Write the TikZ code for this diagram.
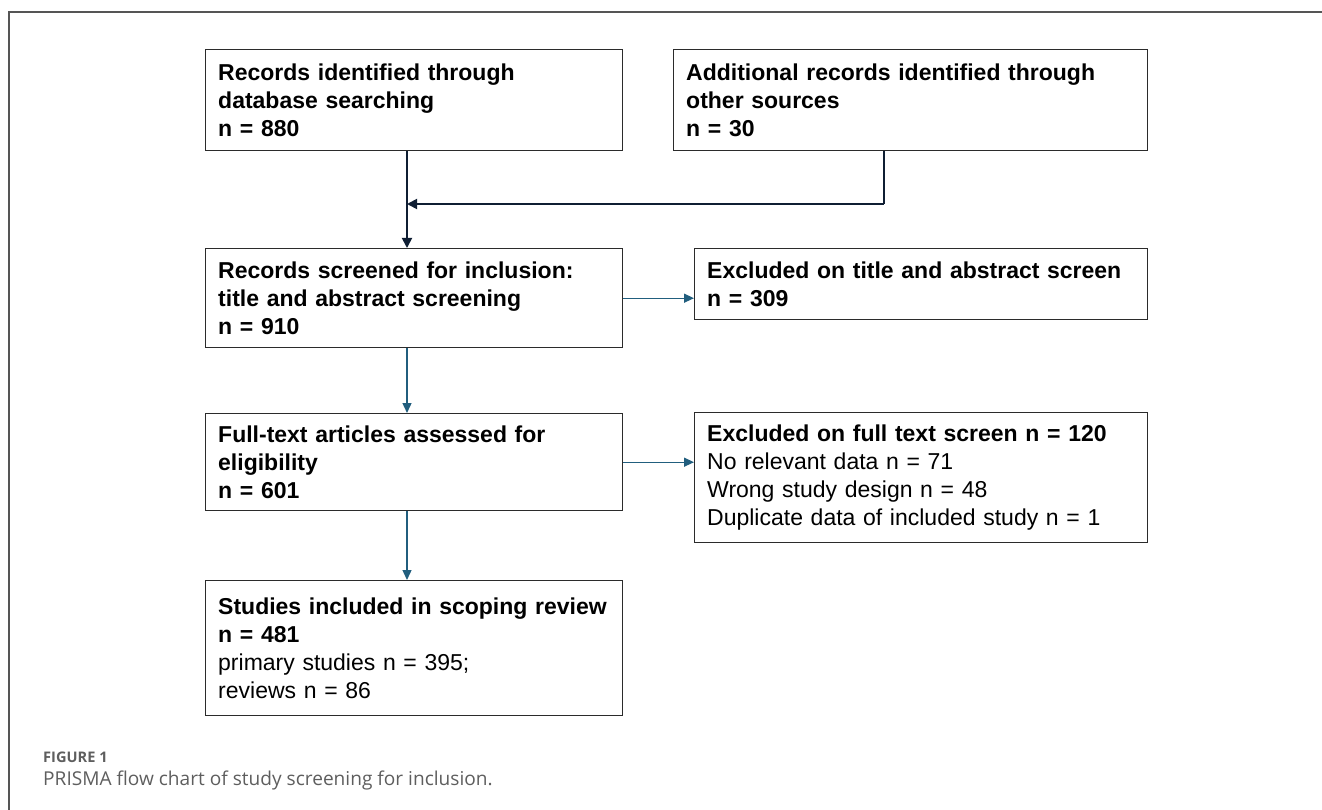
\documentclass[tikz,border=0pt]{standalone}
\usepackage{fontspec}
\setmainfont{Liberation Sans}
\newfontfamily\capfont{Open Sans}
\usetikzlibrary{arrows.meta}
\definecolor{boxline}{HTML}{2B2B2B}
\definecolor{navyarrow}{HTML}{0F1E33}
\definecolor{tealarrow}{HTML}{215E7E}
\definecolor{framegray}{HTML}{555555}
\definecolor{capgray}{HTML}{5E5E5E}
\tikzset{
  flowbox/.style={draw=boxline, line width=1.4pt, anchor=north west, align=left,
    inner xsep=12.5pt, inner ysep=0pt, font=\fontsize{23}{28}\selectfont},
  navyarr/.style={draw=navyarrow, line width=1.8pt, -{Triangle[length=10pt,width=10pt]}},
  navyline/.style={draw=navyarrow, line width=1.8pt},
  tealarr/.style={draw=tealarrow, line width=1.4pt, -{Triangle[length=10pt,width=9pt]}},
  framestyle/.style={draw=framegray, line width=1.3pt},
}
\begin{document}
\begin{tikzpicture}[x=1pt,y=-1pt]
\useasboundingbox (0,0) rectangle (1322,810);
% outer frame (top and left only)
\coordinate (frtr) at (1322,12);
\coordinate (frtl) at (9,12);
\coordinate (frbl) at (9,810);
\draw[framestyle] (frtr) -- (frtl) -- (frbl);

\node[flowbox, minimum width=417pt, minimum height=101pt, text width=392pt] (db) at (205,49)
  {\bfseries Records identified through\\database searching\\n = 880};
\node[flowbox, minimum width=474pt, minimum height=101pt, text width=449pt] (other) at (673,49)
  {\bfseries Additional records identified through\\other sources\\n = 30};
\node[flowbox, minimum width=417pt, minimum height=99pt, text width=392pt] (screen) at (205,248)
  {\bfseries Records screened for inclusion:\\title and abstract screening\\n = 910};
\node[flowbox, minimum width=453pt, minimum height=71pt, text width=428pt] (excl1) at (694,248)
  {\bfseries Excluded on title and abstract screen\\n = 309};
\node[flowbox, minimum width=417pt, minimum height=97pt, text width=392pt] (full) at (205,413)
  {\bfseries Full-text articles assessed for\\eligibility\\n = 601};
\node[flowbox, minimum width=453pt, minimum height=130pt, text width=428pt] (excl2) at (694,412)
  {\textbf{Excluded on full text screen n = 120}\\No relevant data n = 71\\Wrong study design n = 48\\Duplicate data of included study n = 1};
\node[flowbox, minimum width=417pt, minimum height=135pt, text width=392pt] (incl) at (205,580)
  {\textbf{Studies included in scoping review}\\\textbf{n = 481}\\primary studies n = 395;\\reviews n = 86};

% connectors
\coordinate (vx) at (407,0);
\coordinate (hx) at (884,0);
\coordinate (jy) at (0,204);
\coordinate (join) at (vx |- jy);
\coordinate (corner) at (hx |- jy);
\draw[navyarr] (db.south -| vx) -- (screen.north -| vx);
\draw[navyline] (other.south -| hx) -- (corner);
\draw[navyarr] (corner) -- (join);

\draw[tealarr] (screen.south -| vx) -- (full.north -| vx);
\draw[tealarr] (full.south -| vx) -- (incl.north -| vx);
\draw[tealarr] (screen.east) -- (screen.east -| excl1.west);
\draw[tealarr] (full.east) -- (full.east -| excl2.west);

% caption
\node[anchor=base west, inner sep=0pt, text=capgray, font=\capfont\fontsize{14.6}{17}\selectfont\bfseries] (figlbl) at (43,762) {FIGURE 1};
\node[anchor=base west, inner sep=0pt, text=capgray, font=\capfont\fontsize{19.1}{23}\selectfont] (figcap) at (43,785) {PRISMA flow chart of study screening for inclusion.};
\end{tikzpicture}
\end{document}
